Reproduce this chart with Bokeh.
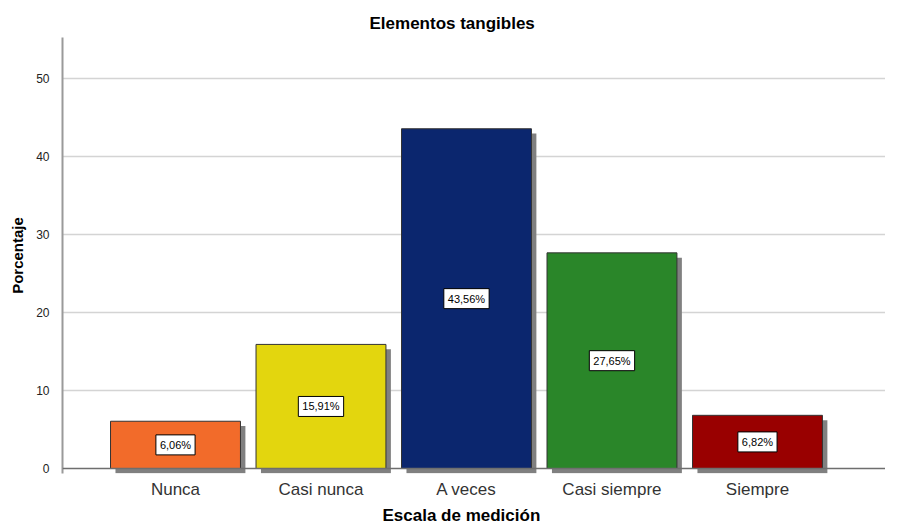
from bokeh.plotting import figure
from bokeh.models import (Range1d, FixedTicker, ColumnDataSource, Span, Title)
from bokeh.core.properties import value
from bokeh.embed import file_html
from bokeh.resources import INLINE

categories = ["Nunca", "Casi nunca", "A veces", "Casi siempre", "Siempre"]
values = [6.06, 15.91, 43.56, 27.65, 6.82]
labels = ["6,06%", "15,91%", "43,56%", "27,65%", "6,82%"]
colors = ["#f26b2a", "#e3d60e", "#0b266e", "#2a8629", "#990000"]
y_ticks = [0, 10, 20, 30, 40, 50]

FONT = "Liberation Sans"
W = 0.893          # bar width (category units)
DX = 0.034         # shadow offset x (category units)
DY = 0.62          # shadow offset y (value units)

xs = list(range(len(categories)))
src = ColumnDataSource(dict(
    x=xs,
    left=[x - W / 2 for x in xs],
    right=[x + W / 2 for x in xs],
    top=values,
    bottom=[0] * len(xs),
    sleft=[x - W / 2 + DX for x in xs],
    sright=[x + W / 2 + DX for x in xs],
    stop=[v - DY for v in values],
    sbottom=[-DY] * len(xs),
    ymid=[v / 2 for v in values],
    label=labels,
    color=colors,
))

p = figure(frame_width=823, frame_height=436, output_backend="svg", toolbar_location=None,
           x_range=Range1d(-0.7766, 4.880), y_range=Range1d(-0.64, 55.26),
           min_border_left=62, min_border_right=0, min_border_top=37, min_border_bottom=42)
p.outline_line_color = None
p.background_fill_color = "white"
p.border_fill_color = "white"

p.title.text = "Elementos tangibles"
p.title.text_font = FONT
p.title.text_font_size = "17px"
p.title.text_font_style = "bold"
p.title.text_color = "#000000"
p.title.align = "left"
p.title.offset = 307
p.title.standoff = 10

# shadows
p.quad(left="sleft", right="sright", top="stop", bottom="sbottom", source=src,
       fill_color="#808080", line_color=None)
# bars
p.quad(left="left", right="right", top="top", bottom="bottom", source=src,
       fill_color="color", line_color="#333333", line_width=1)

p.add_layout(Span(location=0, dimension="width", line_color="#6e6e6e", line_width=1.5))

p.text(x="x", y="ymid", text="label", source=src, text_align="center",
       text_baseline="middle", text_font_size="11px", text_font=value(FONT),
       text_color="black", background_fill_color="white",
       border_line_color="black", border_line_width=1, padding=4)

# y axis
p.yaxis.ticker = FixedTicker(ticks=y_ticks)
p.yaxis.major_tick_line_color = None
p.yaxis.minor_tick_line_color = None
p.yaxis.axis_line_color = "#9a9a9a"
p.yaxis.axis_line_width = 2
p.yaxis.major_label_text_font = FONT
p.yaxis.major_label_text_font_size = "12px"
p.yaxis.major_label_text_color = "#222222"
p.yaxis.major_label_standoff = 7
p.yaxis.axis_label = "Porcentaje"
p.yaxis.axis_label_text_font = FONT
p.yaxis.axis_label_text_font_size = "15px"
p.yaxis.axis_label_text_font_style = "bold"
p.yaxis.axis_label_text_color = "#000000"
p.yaxis.axis_label_standoff = 7

# x axis
p.xaxis.ticker = FixedTicker(ticks=xs)
p.xaxis.major_label_overrides = {i: c for i, c in enumerate(categories)}
p.xaxis.axis_line_color = None
p.xaxis.major_tick_line_color = None
p.xaxis.minor_tick_line_color = None
p.xaxis.major_label_text_font = FONT
p.xaxis.major_label_text_font_size = "17px"
p.xaxis.major_label_text_color = "#333333"
p.xaxis.major_label_standoff = 0

p.add_layout(Title(text="Escala de medición", align="left", offset=320,
                   text_font=FONT, text_font_size="17px", text_font_style="bold",
                   text_color="#000000", standoff=4), "below")

p.xgrid.grid_line_color = None
p.ygrid.ticker = FixedTicker(ticks=y_ticks[1:])
p.ygrid.grid_line_color = "#d4d4d4"
p.ygrid.grid_line_width = 1.5

open("out.html", "w").write(file_html(p, INLINE))
